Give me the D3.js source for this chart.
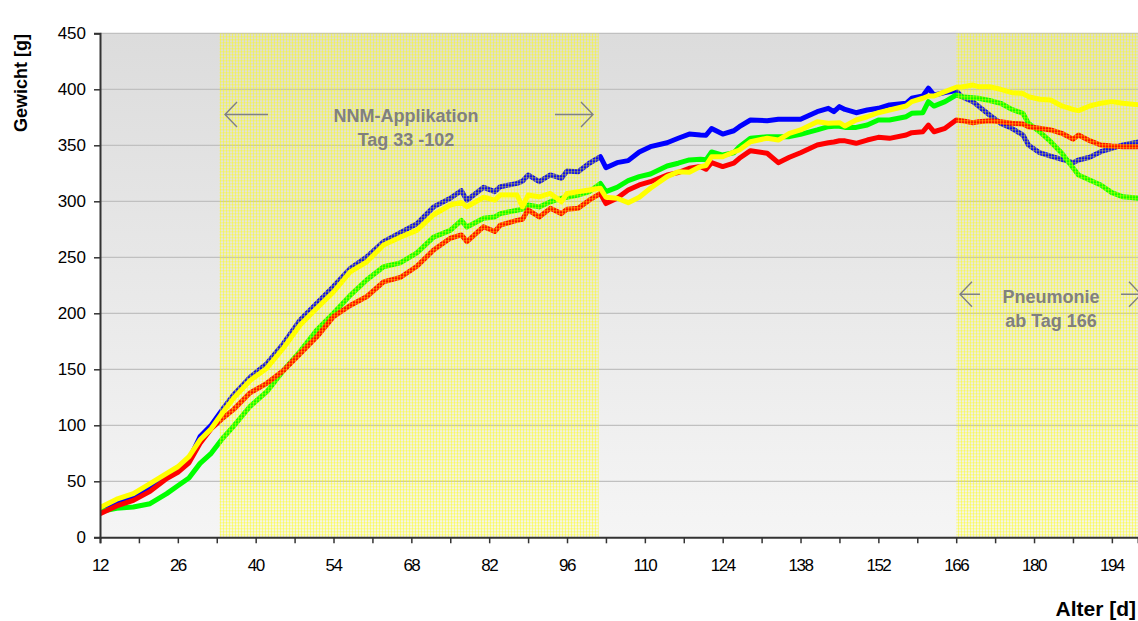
<!DOCTYPE html>
<html>
<head>
<meta charset="utf-8">
<script src="https://cdn.jsdelivr.net/npm/d3@7"></script>
<style>
  body { margin: 0; background: #fff; }
  svg { display: block; font-family: "Liberation Sans", Arial, sans-serif; }
</style>
</head>
<body>
<svg id="chart" width="1138" height="621"></svg>
<script>
// Alter [d] - sample days
const days = [12, 15, 18, 21, 24, 26, 28, 30, 32, 34, 36, 39, 42, 45, 48, 51, 54, 57, 60, 63, 66, 69,
  72, 75, 77, 78, 81, 83, 84, 87, 88, 89, 91, 93, 95, 96, 98, 100, 102, 103, 105, 107, 109, 111,
  114, 116, 118, 120, 121, 122, 124, 126, 127, 129, 132, 134, 136, 138, 141, 143, 144, 145, 146,
  148, 150, 152, 154, 157, 158, 160, 161, 162, 164, 166, 167, 169, 170, 172, 174, 176, 178, 179,
  181, 183, 185, 187, 188, 190, 192, 194, 196, 199];

// Gewicht [g] per group
const blueSeries = [24, 31, 35, 44, 55.5, 61, 69, 90, 100, 114, 127, 143, 155, 173, 194, 209, 224, 240, 250.5, 264, 272, 280,
  295, 302.7, 309.5, 301, 312.5, 308.6, 313, 316, 318, 323.5, 317.5, 323.5, 320.5, 327, 326.4, 334, 339.8, 330, 334.5, 336.3, 344, 348.8,
  352.3, 356.3, 360, 359.2, 359, 365, 360, 363, 366.6, 372.6, 372, 373.2, 373.2, 373.2, 380, 383, 380, 384.5, 382,
  379.1, 381.5, 383, 386, 387.5, 392, 394, 401, 394.9, 397, 398.8, 393.4, 389, 385, 377, 369.6, 365.2, 359.2, 350.3,
  343.4, 340.4, 337.5, 334.5, 336.9, 339.3, 344.3, 347.3, 350.3, 353.2];

const yellowSeries = [26.5, 34, 39, 48, 57, 63, 72, 87, 97, 111, 124, 140, 151, 169, 189.5, 204.5, 219, 237, 246, 261, 268, 274,
  288, 296.7, 299, 295, 303.6, 301, 305.6, 305.6, 295, 305.6, 304, 307, 299.6, 307, 308.6, 310, 311.6, 303.6, 302.7, 298.8, 303.6, 311.6,
  322, 326.4, 326, 331, 332, 339.8, 339.8, 344, 345.8, 353.2, 356.3, 354.7, 360.7, 363.7, 371, 369.6, 370, 370.2, 367.2,
  372.6, 375.5, 379.1, 381.5, 385.1, 389, 392, 394, 394, 397.9, 401.8, 402, 403.8, 402.3, 402.3, 400, 397, 396.2, 393.4,
  391.1, 390.4, 385.1, 382, 381, 385.1, 387.5, 389, 387.5, 386];

const greenSeries = [23, 26, 27, 30, 39, 46, 53, 66, 75, 88, 99, 117, 130, 149, 166, 185, 200, 216, 230, 241.6, 245, 254,
  268, 274, 283, 277, 284.8, 286, 289, 292, 293, 296.7, 295, 299.6, 302.7, 303.5, 305.6, 308.6, 316, 308.6, 312.5, 318.4, 322, 324.4,
  331.5, 334, 336.9, 337.5, 337, 344, 341.3, 343.4, 348.8, 356.3, 357.7, 357.7, 357.7, 359.8, 363.7, 366.6, 367, 367, 366,
  366, 368.1, 372.6, 372.6, 375.5, 378.6, 379.1, 389, 385, 389, 394.9, 393.4, 392.5, 392, 390, 387.5, 382.1, 378.6, 369.6,
  362.1, 353.2, 342.9, 330, 323.5, 319, 314.6, 307.7, 304, 302.7];

const redSeries = [21, 28, 33, 41, 52.5, 58, 66.5, 84, 97, 106, 114, 129, 137.5, 149, 164, 179, 197, 207, 215, 228, 232, 242,
  256.5, 267, 270, 264, 277.3, 273, 278.8, 283, 284, 292.4, 286, 293.7, 289, 293, 293.7, 301, 307, 298, 302.7, 310, 314.6, 317.5,
  323.5, 325.6, 329.5, 331, 328.6, 334.5, 331, 334, 338.4, 345.2, 342.9, 334.5, 339.3, 343.4, 350.3, 352.3, 353, 354.1, 354,
  351.8, 354.7, 357.1, 356.2, 359.2, 361.3, 362.1, 368.1, 362.1, 365.2, 372.6, 372, 370.2, 371, 372, 371, 369.6, 369, 366.6,
  365.2, 363.7, 360.7, 355.5, 359.2, 354.1, 350.3, 349.4, 348.8, 348.8];

const seriesList = [
  { name: "blau", values: blueSeries, color: "#0000ff" },
  { name: "gruen", values: greenSeries, color: "#00ff00" },
  { name: "rot", values: redSeries, color: "#ff0000" },
  { name: "gelb", values: yellowSeries, color: "#ffff00" }
];

const yTicks = [0, 50, 100, 150, 200, 250, 300, 350, 400, 450];
const xLabelTicks = [12, 26, 40, 54, 68, 82, 96, 110, 124, 138, 152, 166, 180, 194];
const xMinorTicks = d3.range(12, 199, 7);

// shaded periods
const periods = [
  { from: 33.5, to: 101.7, lines: ["NNM-Applikation", "Tag 33 -102"] },
  { from: 166, to: 199, lines: ["Pneumonie", "ab Tag 166"] }
];

const svg = d3.select("#chart");
const margin = { top: 33.3, right: 0, bottom: 83.7, left: 100 };
const width = 1138 - margin.left - margin.right;
const height = 621 - margin.top - margin.bottom;

const x = d3.scaleLinear().domain([12, 198.7]).range([0, width]);
const y = d3.scaleLinear().domain([0, 450]).range([height, 0]);

const defs = svg.append("defs");
const grad = defs.append("linearGradient")
  .attr("id", "bg").attr("x1", 0).attr("y1", 0).attr("x2", 0).attr("y2", 1);
grad.append("stop").attr("offset", "0%").attr("stop-color", "#dcdcdc");
grad.append("stop").attr("offset", "100%").attr("stop-color", "#f5f5f5");

// fine yellow grid pattern
const pat = defs.append("pattern")
  .attr("id", "hatch").attr("patternUnits", "userSpaceOnUse")
  .attr("width", 3).attr("height", 3);
pat.append("rect").attr("width", 3).attr("height", 3).attr("fill", "#ffff00").attr("opacity", 0.06);
pat.append("rect").attr("width", 3).attr("height", 1).attr("fill", "#ffff00").attr("opacity", 0.4);
pat.append("rect").attr("width", 1).attr("height", 3).attr("fill", "#ffff00").attr("opacity", 0.4);

defs.append("clipPath").attr("id", "plotClip")
  .append("rect").attr("width", width).attr("height", height + 2);

const g = svg.append("g").attr("transform", `translate(${margin.left},${margin.top})`);

g.append("rect").attr("width", width).attr("height", height).attr("fill", "url(#bg)");

// gridlines
g.selectAll(".grid")
  .data(yTicks.filter(d => d > 0))
  .enter().append("line")
  .attr("class", "grid")
  .attr("x1", 0).attr("x2", width)
  .attr("y1", d => y(d)).attr("y2", d => y(d))
  .attr("stroke", "#c0c0c0").attr("stroke-width", 1.2);

// lines
const line = d3.line().x((d, i) => x(days[i])).y(d => y(d));
const plot = g.append("g").attr("clip-path", "url(#plotClip)");
plot.selectAll(".series")
  .data(seriesList)
  .enter().append("path")
  .attr("class", "series")
  .attr("d", d => line(d.values))
  .attr("fill", "none")
  .attr("stroke", d => d.color)
  .attr("stroke-width", 5)
  .attr("stroke-linejoin", "round");

// shaded periods on top
plot.selectAll(".period")
  .data(periods)
  .enter().append("rect")
  .attr("class", "period")
  .attr("x", d => x(d.from))
  .attr("width", d => x(d.to) - x(d.from))
  .attr("y", 0)
  .attr("height", height + 1)
  .attr("fill", "url(#hatch)");

// axes
const xAxis = g.append("g")
  .attr("transform", `translate(0,${height})`)
  .call(d3.axisBottom(x).tickValues(xMinorTicks).tickSize(6).tickFormat(""));
xAxis.select(".domain").attr("stroke", "#333").attr("stroke-width", 2);
xAxis.selectAll(".tick line").attr("stroke", "#333").attr("stroke-width", 1.5);

g.selectAll(".xlabel")
  .data(xLabelTicks)
  .enter().append("text")
  .attr("class", "xlabel")
  .attr("x", d => x(d))
  .attr("y", height + 34)
  .attr("text-anchor", "middle")
  .attr("font-size", 17)
  .attr("letter-spacing", -1.5)
  .attr("fill", "#000")
  .text(d => d);

const yAxis = g.append("g")
  .call(d3.axisLeft(y).tickValues(yTicks).tickSize(6).tickPadding(8));
yAxis.select(".domain").attr("stroke", "#333").attr("stroke-width", 2);
yAxis.selectAll(".tick line").attr("stroke", "#333").attr("stroke-width", 1.5);
yAxis.selectAll(".tick text")
  .attr("font-size", 17)
  .attr("font-family", "Liberation Sans, Arial, sans-serif")
  .attr("fill", "#000");

// axis titles
svg.append("text")
  .attr("transform", "translate(27,83) rotate(-90)")
  .attr("text-anchor", "middle")
  .attr("font-size", 18)
  .attr("font-weight", "bold")
  .text("Gewicht [g]");

svg.append("text")
  .attr("x", 1136)
  .attr("y", 616)
  .attr("text-anchor", "end")
  .attr("font-size", 21)
  .attr("font-weight", "bold")
  .text("Alter [d]");

// annotations
const gray = "#808080";
function arrow(x1, x2, yy) {
  const dir = x2 > x1 ? -1 : 1;
  g.append("path")
    .attr("d", `M${x1},${yy}L${x2},${yy}M${x2 + dir * 12},${yy - 12.5}L${x2},${yy}L${x2 + dir * 12},${yy + 12.5}`)
    .attr("fill", "none")
    .attr("stroke", gray)
    .attr("stroke-width", 1.4);
}

const ann = [
  { cx: 406, y1: 122.5, arrows: [[268, 225], [555, 593]], ay: 114.5, text: periods[0].lines },
  { cx: 1051, y1: 303, arrows: [[980, 960], [1121, 1141]], ay: 294.3, text: periods[1].lines }
];
ann.forEach(a => {
  a.arrows.forEach(([p, q]) => arrow(p - margin.left, q - margin.left, a.ay - margin.top));
  a.text.forEach((t, i) => {
    g.append("text")
      .attr("x", a.cx - margin.left)
      .attr("y", a.y1 - margin.top + i * 24)
      .attr("text-anchor", "middle")
      .attr("font-size", 18)
      .attr("font-weight", "bold")
      .attr("fill", gray)
      .text(t);
  });
});
</script>
</body>
</html>
